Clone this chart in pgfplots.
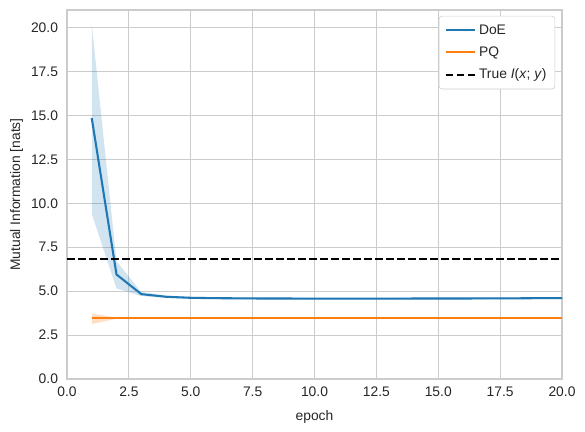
\documentclass[border=0pt]{standalone}
\usepackage{pgfplots}
\pgfplotsset{compat=1.18}
\usepackage{fontspec}
\setmainfont{Liberation Sans}
\definecolor{tabblue}{HTML}{1F77B4}
\definecolor{taborange}{HTML}{FF7F0E}
\definecolor{gridgray}{HTML}{CCCCCC}
\definecolor{txt}{HTML}{262626}
\begin{document}
\begin{tikzpicture}
\path[use as bounding box] (-0.67in,-0.53in) rectangle (5.18in,3.79in);
\begin{axis}[
  at={(0,0)}, anchor=south west,
  scale only axis,
  width=4.95in, height=3.69in,
  xmin=0, xmax=20, ymin=0, ymax=21,
  xtick={0,2.5,...,20}, ytick={0,2.5,...,20},
  xticklabel style={yshift=-2pt, /pgf/number format/fixed, /pgf/number format/fixed zerofill, /pgf/number format/precision=1},
  yticklabel style={xshift=-3pt, /pgf/number format/fixed, /pgf/number format/fixed zerofill, /pgf/number format/precision=1},
  /pgf/number format/assume math mode=true,
  tick style={draw=none},
  grid=major, major grid style={gridgray, line width=0.8pt},
  axis line style={gridgray, line width=1pt},
  tick label style={font=\fontsize{10}{12}\selectfont, text=txt},
  label style={font=\fontsize{10}{12}\selectfont, text=txt},
  xlabel={epoch}, ylabel={Mutual Information [nats]},
  xlabel style={yshift=-3pt}, ylabel style={yshift=-1pt},
  legend style={at={(0.986,0.984)}, anchor=north east, draw=gridgray, rounded corners=2pt, font=\fontsize{10}{12}\selectfont, text=txt, row sep=3.5pt, inner sep=4pt},
  legend cell align=left,
  legend image code/.code={\draw[#1] (0cm,0cm) -- (0.75cm,0cm);},
]
% DoE band
\addplot[fill=tabblue, fill opacity=0.2, draw=none, forget plot] coordinates {
(1,20.2)(2,6.7)(3,4.95)(4,4.75)(5,4.68)(6,4.65)(7,4.64)(8,4.63)(9,4.63)(10,4.62)(11,4.62)(12,4.62)(13,4.62)(14,4.63)(15,4.63)(16,4.63)(17,4.64)(18,4.64)(19,4.65)(20,4.65)
(20,4.55)(19,4.55)(18,4.54)(17,4.54)(16,4.53)(15,4.53)(14,4.53)(13,4.52)(12,4.52)(11,4.52)(10,4.52)(9,4.53)(8,4.53)(7,4.54)(6,4.55)(5,4.57)(4,4.62)(3,4.72)(2,5.15)(1,9.4)
} -- cycle;
% PQ band
\addplot[fill=taborange, fill opacity=0.25, draw=none, forget plot] coordinates {
(1,3.72)(2,3.49)(3,3.48)(5,3.48)(10,3.48)(15,3.48)(20,3.48)
(20,3.44)(15,3.44)(10,3.44)(5,3.44)(3,3.44)(2,3.43)(1,3.13)
} -- cycle;
\addplot[tabblue, line width=1.5pt] coordinates {
(1,14.85)(2,5.95)(3,4.83)(4,4.68)(5,4.62)(6,4.60)(7,4.59)(8,4.58)(9,4.58)(10,4.57)(11,4.57)(12,4.57)(13,4.57)(14,4.58)(15,4.58)(16,4.58)(17,4.59)(18,4.59)(19,4.60)(20,4.60)
};
\addlegendentry{DoE}
\addplot[taborange, line width=1.5pt] coordinates {
(1,3.46)(2,3.46)(3,3.46)(4,3.46)(5,3.46)(6,3.46)(7,3.46)(8,3.46)(9,3.46)(10,3.46)(11,3.46)(12,3.46)(13,3.46)(14,3.46)(15,3.46)(16,3.46)(17,3.46)(18,3.46)(19,3.46)(20,3.46)
};
\addlegendentry{PQ}
\addplot[black, line width=1.5pt, dash pattern=on 5.55pt off 2.4pt] coordinates {(0,6.85)(20,6.85)};
\addlegendentry{True \textit{I}(\textit{x}; \textit{y})}
\end{axis}
\end{tikzpicture}
\end{document}
